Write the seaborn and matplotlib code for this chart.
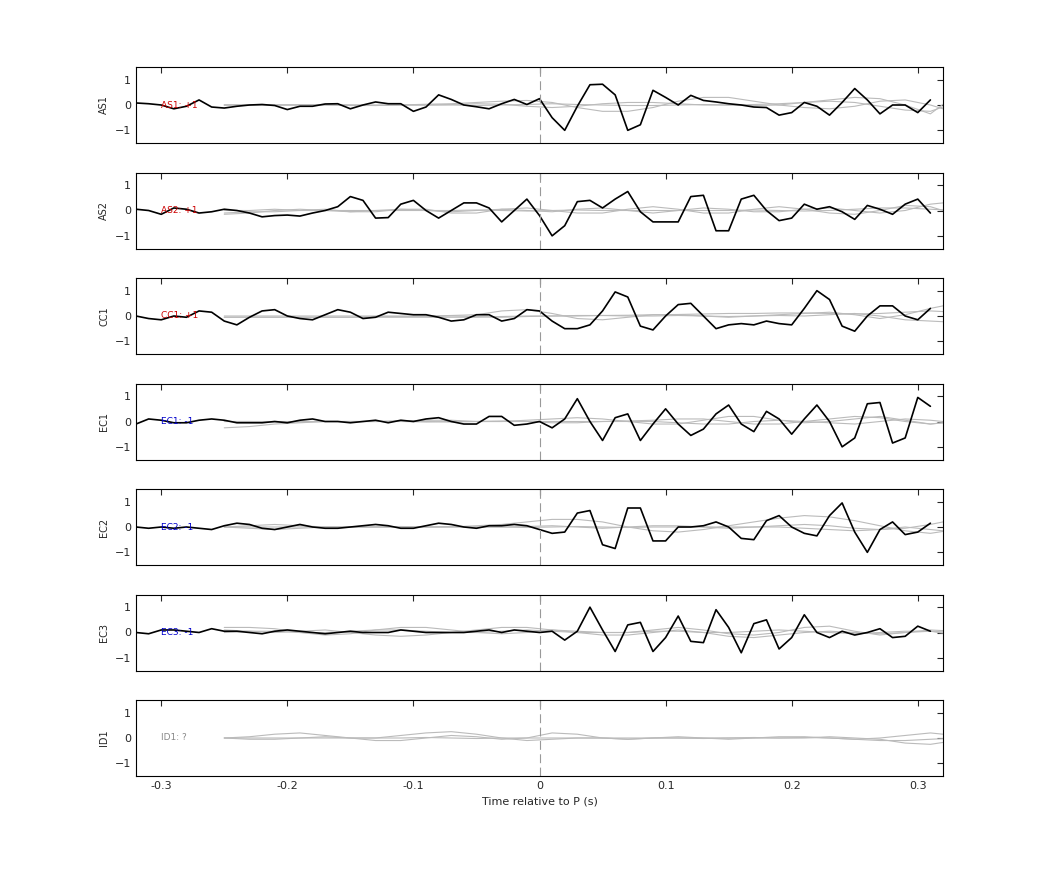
import numpy as np
import matplotlib
matplotlib.use('Agg')
import matplotlib.pyplot as plt
import seaborn as sns

# station names and polarity labels
stations = ['AS1', 'AS2', 'CC1', 'EC1', 'EC2', 'EC3', 'ID1']
labels = ['AS1: +1', 'AS2: +1', 'CC1: +1', 'EC1: -1', 'EC2: -1', 'EC3: -1', 'ID1: ?']
label_colors = ['#cc0000', '#cc0000', '#cc0000', '#0000cc', '#0000cc', '#0000cc', '#888888']

# black traces, sampled every 0.01 s from -0.32 to 0.31
t_trace = np.round(np.arange(-0.32, 0.315, 0.01), 2)
traces = {
    'AS1': [0.08, 0.05, 0.0, -0.15, -0.05, 0.2, -0.08, -0.12, -0.05, 0.0, 0.02, -0.02, -0.18, -0.05, -0.05, 0.04,
            0.05, -0.15, 0.0, 0.12, 0.05, 0.05, -0.25, -0.08, 0.4, 0.22, 0.0, -0.07, -0.15, 0.05, 0.22, 0.02,
            0.25, -0.5, -1.0, -0.05, 0.8, 0.82, 0.4, -1.0, -0.78, 0.58, 0.3, 0.0, 0.38, 0.18, 0.12, 0.05,
            0.0, -0.08, -0.1, -0.4, -0.3, 0.1, -0.05, -0.4, 0.1, 0.65, 0.2, -0.35, 0.0, 0.0, -0.3, 0.2],
    'AS2': [0.05, 0.0, -0.15, 0.1, 0.05, -0.1, -0.05, 0.05, 0.0, -0.1, -0.25, -0.2, -0.18, -0.22, -0.1, 0.0,
            0.15, 0.55, 0.4, -0.3, -0.28, 0.25, 0.4, 0.0, -0.3, 0.0, 0.3, 0.3, 0.1, -0.45, 0.0, 0.45,
            -0.2, -1.0, -0.6, 0.35, 0.4, 0.1, 0.45, 0.75, -0.05, -0.45, -0.45, -0.45, 0.55, 0.6, -0.8, -0.8,
            0.45, 0.6, 0.0, -0.4, -0.3, 0.25, 0.05, 0.15, -0.05, -0.35, 0.2, 0.05, -0.15, 0.25, 0.45, -0.1],
    'CC1': [0.0, -0.1, -0.15, 0.0, -0.05, 0.2, 0.15, -0.2, -0.35, -0.05, 0.2, 0.25, 0.0, -0.1, -0.15, 0.05,
            0.25, 0.15, -0.1, -0.05, 0.15, 0.1, 0.05, 0.05, -0.05, -0.2, -0.15, 0.05, 0.05, -0.2, -0.1, 0.25,
            0.2, -0.2, -0.5, -0.5, -0.35, 0.2, 0.95, 0.75, -0.4, -0.55, 0.0, 0.45, 0.5, 0.0, -0.5, -0.35,
            -0.3, -0.35, -0.2, -0.3, -0.35, 0.3, 1.0, 0.65, -0.4, -0.6, 0.0, 0.4, 0.4, 0.0, -0.15, 0.3],
    'EC1': [-0.1, 0.1, 0.05, -0.05, -0.05, 0.05, 0.1, 0.05, -0.05, -0.05, -0.05, 0.0, -0.05, 0.05, 0.1, 0.0,
            0.0, -0.05, 0.0, 0.05, -0.05, 0.05, 0.0, 0.1, 0.15, 0.0, -0.1, -0.1, 0.2, 0.2, -0.15, -0.1,
            0.0, -0.25, 0.1, 0.9, 0.0, -0.75, 0.15, 0.3, -0.75, -0.1, 0.5, -0.1, -0.55, -0.3, 0.3, 0.65,
            -0.1, -0.4, 0.4, 0.1, -0.5, 0.1, 0.65, 0.0, -1.0, -0.65, 0.7, 0.75, -0.85, -0.65, 0.95, 0.6],
    'EC2': [0.0, -0.05, 0.0, -0.05, 0.0, -0.05, -0.1, 0.05, 0.15, 0.1, -0.05, -0.1, 0.0, 0.1, 0.0, -0.05,
            -0.05, 0.0, 0.05, 0.1, 0.05, -0.05, -0.05, 0.05, 0.15, 0.1, 0.0, -0.05, 0.05, 0.05, 0.1, 0.05,
            -0.1, -0.25, -0.2, 0.55, 0.65, -0.7, -0.85, 0.75, 0.75, -0.55, -0.55, 0.0, 0.0, 0.05, 0.2, 0.0,
            -0.45, -0.5, 0.25, 0.45, 0.0, -0.25, -0.35, 0.45, 0.95, -0.2, -1.0, -0.1, 0.2, -0.3, -0.2, 0.15],
    'EC3': [0.0, -0.05, 0.1, 0.1, 0.05, 0.0, 0.15, 0.05, 0.05, 0.0, -0.05, 0.05, 0.1, 0.05, 0.0, -0.05,
            0.0, 0.05, 0.0, 0.0, 0.0, 0.1, 0.05, 0.0, 0.0, 0.0, 0.0, 0.05, 0.1, 0.0, 0.1, 0.05,
            0.0, 0.05, -0.3, 0.05, 1.0, 0.1, -0.75, 0.3, 0.4, -0.75, -0.2, 0.65, -0.35, -0.4, 0.9, 0.2,
            -0.8, 0.35, 0.5, -0.65, -0.2, 0.7, 0.0, -0.2, 0.05, -0.1, 0.0, 0.15, -0.2, -0.15, 0.25, 0.05],
}

# gray synthetic traces, sampled every 0.02 s from -0.25 to 0.33
t_syn = np.round(np.arange(-0.25, 0.335, 0.02), 2)
synth = {
    'AS1': [
        [0.0, 0.0, 0.0, 0.01, 0.02, 0.0, -0.02, 0.0, 0.03, 0.05, 0.1, 0.15, 0.18, 0.1, -0.1, -0.25, -0.25, -0.1, 0.15, 0.3, 0.3, 0.15, 0.0, -0.1, -0.15, -0.05, 0.15, 0.2, 0.0, -0.3],
        [0.0, 0.0, 0.0, 0.0, 0.0, 0.0, 0.0, 0.0, 0.0, 0.02, 0.05, 0.03, -0.05, -0.1, -0.05, 0.05, 0.1, 0.1, 0.05, 0.0, 0.0, 0.02, 0.05, 0.1, 0.15, 0.1, -0.05, -0.2, -0.25, 0.1],
        [0.0, 0.0, 0.0, 0.0, 0.0, -0.02, -0.02, 0.0, 0.0, 0.0, -0.02, 0.0, 0.02, 0.05, 0.02, 0.0, -0.02, -0.02, 0.0, 0.02, 0.0, -0.02, 0.0, 0.1, 0.2, 0.3, 0.25, 0.0, -0.35, 0.4],
    ],
    'AS2': [
        [-0.1, -0.05, -0.05, 0.0, 0.05, -0.05, -0.05, 0.05, 0.05, -0.1, -0.1, 0.05, 0.1, 0.0, -0.1, -0.1, 0.05, 0.15, 0.05, -0.1, -0.1, 0.05, 0.15, 0.05, -0.1, -0.15, 0.0, 0.2, 0.15, -0.15],
        [-0.15, -0.1, 0.0, 0.05, 0.0, -0.05, 0.0, 0.05, 0.0, -0.05, 0.0, 0.05, 0.0, -0.05, 0.05, 0.1, 0.0, -0.1, 0.0, 0.1, 0.05, -0.05, -0.05, 0.05, 0.1, 0.0, -0.1, 0.0, 0.25, 0.35],
        [0.0, 0.0, 0.05, 0.0, 0.0, 0.0, 0.0, 0.0, 0.0, 0.0, 0.02, 0.0, -0.02, 0.0, 0.02, 0.0, 0.0, 0.0, 0.0, 0.0, 0.0, 0.02, 0.0, -0.02, 0.0, 0.05, 0.1, 0.1, 0.05, 0.0],
    ],
    'CC1': [
        [-0.05, -0.05, -0.05, -0.05, -0.05, -0.05, -0.05, -0.05, -0.05, -0.05, -0.05, -0.02, 0.0, 0.0, 0.0, 0.02, 0.03, 0.05, 0.06, 0.08, 0.1, 0.1, 0.12, 0.12, 0.1, 0.08, 0.1, 0.15, 0.2, 0.15],
        [0.0, 0.0, 0.0, 0.0, 0.0, 0.0, 0.0, 0.0, 0.0, 0.02, 0.05, 0.2, 0.25, 0.1, -0.1, -0.15, -0.05, 0.05, 0.05, 0.0, -0.05, 0.0, 0.05, 0.1, 0.15, 0.05, -0.1, 0.05, 0.3, 0.5],
        [-0.05, -0.05, -0.05, -0.05, -0.05, -0.05, -0.02, -0.02, -0.02, 0.0, -0.02, -0.05, -0.02, 0.0, 0.02, 0.02, 0.0, 0.0, 0.02, 0.0, -0.02, 0.0, 0.02, 0.0, 0.05, 0.1, 0.0, -0.15, -0.2, -0.25],
    ],
    'EC1': [
        [-0.25, -0.2, -0.1, -0.05, 0.0, 0.0, 0.0, 0.02, 0.0, -0.02, 0.0, 0.02, 0.0, 0.0, 0.0, 0.0, 0.02, 0.05, 0.1, 0.1, 0.0, -0.1, -0.1, 0.0, 0.1, 0.2, 0.15, 0.0, -0.1, 0.0],
        [0.0, 0.0, 0.0, 0.0, 0.0, 0.0, 0.0, 0.02, 0.05, 0.05, 0.0, 0.0, 0.05, 0.1, 0.15, 0.1, 0.0, -0.1, -0.1, 0.05, 0.2, 0.2, 0.05, -0.05, 0.0, 0.1, 0.2, 0.05, -0.1, 0.0],
        [0.0, 0.0, -0.02, -0.02, 0.0, 0.0, 0.0, 0.0, -0.02, 0.0, 0.0, 0.0, 0.0, -0.05, -0.05, 0.0, 0.0, 0.0, -0.05, -0.1, -0.1, 0.0, 0.05, 0.0, -0.05, -0.1, 0.0, 0.1, 0.05, -0.05],
    ],
    'EC2': [
        [0.0, 0.05, 0.1, 0.05, 0.0, 0.0, 0.0, 0.02, 0.0, 0.0, 0.05, 0.1, 0.2, 0.3, 0.3, 0.2, 0.0, -0.15, -0.2, -0.1, 0.05, 0.2, 0.35, 0.45, 0.4, 0.25, 0.05, -0.15, -0.25, -0.1],
        [0.0, -0.05, -0.1, -0.05, 0.0, 0.0, 0.0, 0.0, 0.0, 0.02, 0.0, 0.0, 0.02, 0.05, 0.0, -0.05, 0.0, 0.05, 0.05, 0.0, -0.05, 0.0, 0.05, 0.1, 0.05, -0.05, -0.1, -0.05, 0.1, 0.3],
        [0.0, 0.0, 0.0, 0.0, 0.0, 0.0, 0.0, 0.0, 0.0, 0.0, 0.0, 0.0, -0.02, 0.0, 0.02, 0.0, -0.02, 0.0, 0.0, 0.0, 0.0, 0.0, 0.0, -0.05, -0.1, -0.15, -0.1, 0.0, -0.1, -0.2],
    ],
    'EC3': [
        [0.2, 0.2, 0.15, 0.0, -0.1, -0.05, 0.1, 0.2, 0.2, 0.1, 0.0, -0.05, 0.0, 0.1, 0.05, 0.0, 0.0, 0.1, 0.2, 0.1, -0.05, -0.1, 0.0, 0.2, 0.25, 0.05, -0.1, 0.0, 0.1, 0.05],
        [0.1, 0.05, 0.0, 0.05, 0.1, 0.0, -0.1, -0.15, -0.1, 0.0, 0.1, 0.2, 0.2, 0.1, 0.0, -0.1, -0.1, 0.0, 0.1, 0.0, -0.15, -0.2, -0.1, 0.0, 0.05, 0.0, -0.05, 0.0, 0.05, -0.1],
        [0.0, 0.05, 0.05, 0.0, 0.0, 0.05, 0.1, 0.1, 0.05, 0.0, 0.0, 0.05, 0.1, 0.05, 0.0, 0.0, 0.0, 0.05, 0.05, 0.0, 0.0, 0.05, 0.1, 0.05, 0.0, -0.05, 0.0, 0.05, 0.05, 0.0],
    ],
    'ID1': [
        [0.0, 0.05, 0.15, 0.2, 0.1, 0.0, 0.0, 0.1, 0.2, 0.25, 0.15, 0.0, -0.1, -0.05, 0.0, 0.0, -0.05, 0.0, 0.05, 0.0, -0.05, 0.0, 0.05, 0.05, 0.0, -0.05, 0.0, 0.1, 0.2, 0.1],
        [0.0, -0.05, -0.05, 0.0, 0.05, 0.0, -0.1, -0.1, 0.0, 0.1, 0.05, -0.05, 0.0, 0.2, 0.15, 0.0, -0.05, 0.0, 0.0, -0.02, 0.0, 0.02, 0.0, 0.0, 0.05, 0.0, -0.05, -0.2, -0.25, -0.1],
        [0.0, 0.0, 0.0, 0.0, 0.0, 0.0, 0.0, 0.0, 0.02, 0.0, -0.02, 0.0, 0.0, 0.0, 0.0, 0.0, 0.0, 0.0, 0.0, 0.0, 0.0, 0.0, 0.0, 0.02, 0.0, -0.05, -0.1, -0.1, -0.05, 0.0],
    ],
}

sns.set_style('white')
plt.rcParams['font.family'] = ['DejaVu Sans']

fig = plt.figure(figsize=(10.42, 8.75), dpi=100)
W, H = 1042, 875
left, right = 136, 943
top0, ph, step = 67, 76, 105.5

for i, st in enumerate(stations):
    top = top0 + i * step
    ax = fig.add_axes([left / W, 1 - (top + ph) / H, (right - left) / W, ph / H])
    for s in synth[st]:
        sns.lineplot(x=t_syn, y=s, ax=ax, color='#bbbbbb', lw=0.8)
    if st in traces:
        sns.lineplot(x=t_trace, y=traces[st], ax=ax, color='black', lw=1.2)
    ax.axvline(0, color='#999999', lw=0.8, ls=(0, (8, 4)))
    ax.text(-0.30, 0, labels[i], color=label_colors[i], fontsize=6.5, va='center')
    ax.set_xlim(-0.32, 0.32)
    ax.set_ylim(-1.5, 1.5)
    ax.set_yticks([-1, 0, 1])
    ax.set_xticks([-0.3, -0.2, -0.1, 0, 0.1, 0.2, 0.3])
    ax.tick_params(direction='in', top=True, right=True, labelsize=8, length=4)
    ax.set_ylabel(st, fontsize=7)
    for sp in ax.spines.values():
        sp.set_color('black')
        sp.set_linewidth(0.8)
    if i < len(stations) - 1:
        ax.set_xticklabels([])
    else:
        ax.set_xticklabels(['-0.3', '-0.2', '-0.1', '0', '0.1', '0.2', '0.3'])
        ax.set_xlabel('Time relative to P (s)', fontsize=8)

fig.savefig('out.png', dpi=100)
